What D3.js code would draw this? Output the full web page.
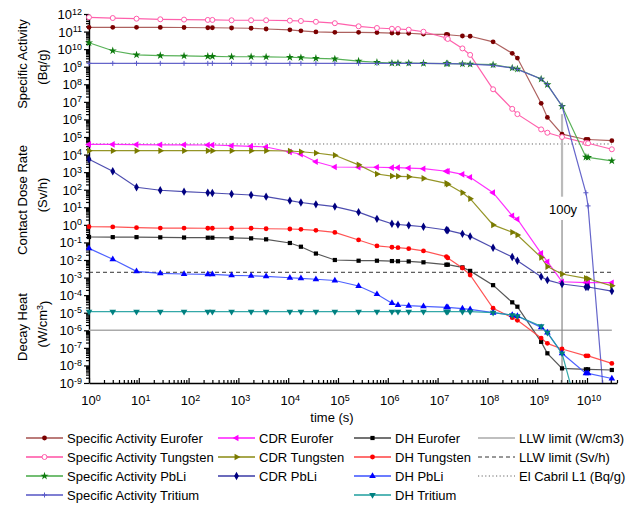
<!DOCTYPE html>
<html>
<head>
<meta charset="utf-8">
<script src="https://cdn.jsdelivr.net/npm/d3@7"></script>
<style>
  body { margin: 0; background: #fff; }
  svg { font-family: "Liberation Sans", Arial, sans-serif; }
</style>
</head>
<body>
<div id="chart"></div>
<script>
// Cooling times (s)
const times = [1, 3, 9, 27, 81, 243, 300, 729, 1800, 3600, 1.08e4, 1.8e4, 3.6e4, 8.64e4, 2.59e5,
  6.05e5, 1.21e6, 1.6e6, 2.63e6, 5.2e6, 1.5e7, 1.6e7, 3.15e7, 4.5e7, 1.3e8,
  3.15e8, 4e8, 1.2e9, 1.6e9, 3.15e9, 9.5e9, 1.05e10, 3.15e10]

// Specific activity (Bq/g)
const saEurofer = [1.75e11, 1.75e11, 1.75e11, 1.72e11, 1.7e11, 1.65e11, 1.65e11, 1.6e11, 1.55e11, 1.4e11,
  1.25e11, 1.1e11, 9.5e10, 9.1e10, 9.1e10, 8.8e10, 8.2e10, 8.2e10, 8e10, 7.2e10,
  6.9e10, 6.6e10, 5.6e10, 5.4e10, 2.6e10, 5.8e9, 3.1e9, 8.3e6, 1.3e6, 1.45e5, 7.2e4, 7.2e4, 6.2e4]
const saTungsten = [6.5e11, 5.9e11, 5.4e11, 5.0e11, 4.8e11, 4.6e11, 4.6e11, 4.4e11, 4.4e11, 4.4e11,
  4.2e11, 4.0e11, 3.6e11, 3.0e11, 2.0e11, 1.6e11, 1.45e11, 1.4e11, 1.28e11, 9.8e10,
  4.3e10, 3.8e10, 1.1e10, 4.7e9, 5.2e7, 4e6, 2e6, 2.7e5, 1.75e5, 1e5, 4.6e4, 4.4e4, 2e4]
const saPbLi = [2.3e10, 8.1e9, 4.7e9, 4.3e9, 4.1e9, 3.9e9, 3.9e9, 3.7e9, 3.7e9, 3.6e9,
  3.45e9, 3.3e9, 3.0e9, 2.8e9, 2.1e9, 1.8e9, 1.6e9, 1.6e9, 1.6e9, 1.56e9,
  1.5e9, 1.5e9, 1.45e9, 1.4e9, 1.3e9, 8.5e8, 7.4e8, 2.0e8, 9.5e7, 5.6e6, 7.2e3, 6.9e3, 4.4e3]
const saTritium = [1.55e9, 1.55e9, 1.55e9, 1.55e9, 1.55e9, 1.55e9, 1.55e9, 1.55e9, 1.55e9, 1.55e9,
  1.55e9, 1.55e9, 1.55e9, 1.55e9, 1.55e9, 1.55e9, 1.55e9, 1.55e9, 1.55e9, 1.55e9,
  1.5e9, 1.5e9, 1.45e9, 1.4e9, 1.2e9, 8.5e8, 7.1e8, 2.0e8, 9.5e7, 5.8e6, 67, 12, 4e-16]

// Contact dose rate (Sv/h)
const cdrEurofer = [3.8e4, 3.8e4, 3.7e4, 3.6e4, 3.6e4, 3.5e4, 3.5e4, 3.2e4, 2.95e4, 2.7e4,
  1.4e4, 1.04e4, 3.9e3, 1.96e3, 1.9e3, 1.9e3, 1.8e3, 1.8e3, 1.7e3, 1.57e3,
  1.12e3, 1.1e3, 750, 510, 68, 3.3, 2.1, 0.024, 8e-3, 5.8e-4, 5.2e-4, 5.1e-4, 5.1e-4]
const cdrTungsten = [1.66e4, 1.66e4, 1.66e4, 1.66e4, 1.66e4, 1.66e4, 1.66e4, 1.66e4, 1.66e4, 1.66e4,
  1.6e4, 1.45e4, 1.23e4, 9.1e3, 2.6e3, 780, 600, 580, 550, 445,
  230, 203, 68, 31, 0.99, 0.38, 0.265, 0.014, 4.2e-3, 1.6e-3, 9.1e-4, 8.6e-4, 3.4e-4]
const cdrPbLi = [5.4e3, 1.12e3, 138, 93, 77, 67, 65, 57, 50, 40,
  23.7, 18.7, 14.7, 11, 5.3, 2.2, 1.16, 1.05, 0.94, 0.78,
  0.51, 0.49, 0.31, 0.22, 0.05, 0.0148, 9.1e-3, 1.12e-3, 7.2e-4, 4.3e-4, 2.9e-4, 2.9e-4, 1.7e-4]

// Decay heat (W/cm3)
const dhEurofer = [0.204, 0.2, 0.2, 0.195, 0.19, 0.186, 0.186, 0.18, 0.171, 0.15,
  0.093, 0.057, 0.0233, 0.01, 9.1e-3, 9.1e-3, 8.7e-3, 8.5e-3, 8.3e-3, 7.4e-3,
  5.4e-3, 5.4e-3, 3.8e-3, 2.4e-3, 3.7e-4, 3.9e-5, 2.2e-5, 2.2e-7, 4.9e-8, 6.8e-9, 6e-9, 6e-9, 5.5e-9]
const dhTungsten = [0.78, 0.76, 0.69, 0.66, 0.66, 0.64, 0.64, 0.64, 0.64, 0.6,
  0.58, 0.56, 0.49, 0.37, 0.138, 0.063, 0.053, 0.05, 0.044, 0.033,
  0.0156, 0.0131, 3.5e-3, 1.4e-3, 1.8e-5, 5.2e-6, 3.7e-6, 3.6e-7, 1.8e-7, 8.6e-8, 3.5e-8, 3.5e-8, 1.3e-8]
const dhPbLi = [0.046, 0.011, 2.26e-3, 1.74e-3, 1.6e-3, 1.53e-3, 1.53e-3, 1.34e-3, 1.27e-3, 1.18e-3,
  9.8e-4, 9.1e-4, 8e-4, 6.8e-4, 3.3e-4, 1.13e-4, 3.5e-5, 2.75e-5, 2.5e-5, 2.3e-5,
  2e-5, 2e-5, 1.7e-5, 1.55e-5, 1e-5, 7.4e-6, 6.5e-6, 1.47e-6, 7.3e-7, 4.9e-8, 3.5e-9, 3.5e-9, 1.8e-9]
const dhTritium = [1.15e-5, 1.15e-5, 1.15e-5, 1.15e-5, 1.15e-5, 1.15e-5, 1.15e-5, 1.15e-5, 1.15e-5, 1.15e-5,
  1.15e-5, 1.15e-5, 1.15e-5, 1.15e-5, 1.15e-5, 1.15e-5, 1.15e-5, 1.15e-5, 1.15e-5, 1.15e-5,
  1.15e-5, 1.15e-5, 1.15e-5, 1.15e-5, 1e-5, 7.3e-6, 6.4e-6, 1.7e-6, 7.3e-7, 4.9e-8, 5e-13, 1e-13, 1e-29]

// Limits
const llwHeat = 1e-6
const llwDose = 2e-3
const elCabril = 4e4
const limitSpan = [1, 3.15e10]
const mark100y = 3.15e9

const xTicks = d3.range(0, 11)
const yTicks = d3.range(-9, 13)

const width = 640
const height = 508

const svg = d3.select("#chart").append("svg").attr("width", width).attr("height", height)

const x = d3.scaleLog().domain([1, 4e10]).range([89, 617])
const y = d3.scaleLog().domain([1e-9, 1e12]).range([383, 14])

// clip for the data
svg.append("defs").append("clipPath").attr("id", "plot")
  .append("rect").attr("x", 84).attr("y", 8).attr("width", 540).attr("height", 375)

// minor tick values
function minors(lo, hi) {
  const out = []
  for (let e = lo; e < hi; e++) {
    for (let m = 2; m <= 9; m++) out.push(m * Math.pow(10, e))
  }
  return out
}

// y axis (ticks outward)
svg.append("g").attr("transform", "translate(89,0)")
  .call(d3.axisLeft(y).tickValues(minors(-9, 12)).tickSize(3).tickFormat(""))
  .call((g) => g.select(".domain").remove())
svg.append("g").attr("transform", "translate(89,0)")
  .call(d3.axisLeft(y).tickValues(yTicks.map((e) => Math.pow(10, e))).tickSizeInner(5).tickSizeOuter(0).tickFormat(""))

// x axis (ticks inward)
const xMinor = minors(0, 11).filter((v) => v <= 4e10)
svg.append("g").attr("transform", "translate(0,383)")
  .call(d3.axisBottom(x).tickValues(xMinor).tickSize(-3).tickFormat(""))
  .call((g) => g.select(".domain").remove())
svg.append("g").attr("transform", "translate(0,383)")
  .call(d3.axisBottom(x).tickValues(xTicks.map((e) => Math.pow(10, e))).tickSizeInner(-5).tickSizeOuter(0).tickFormat(""))

svg.selectAll(".tick line").attr("stroke", "#000").attr("stroke-width", 1.2)
svg.selectAll(".domain").attr("stroke", "#000").attr("stroke-width", 1.4)

// power-of-ten labels
function pow10(sel, e) {
  sel.append("tspan").text("10")
  sel.append("tspan").attr("dy", "-0.5em").attr("font-size", 9).text(e)
}

yTicks.forEach((e) => {
  svg.append("text").attr("x", 82).attr("y", y(Math.pow(10, e)) + 5)
    .attr("text-anchor", "end").attr("font-size", 13).call(pow10, e)
})
xTicks.forEach((e) => {
  svg.append("text").attr("x", x(Math.pow(10, e)) + 2).attr("y", 405)
    .attr("text-anchor", "middle").attr("font-size", 13).call(pow10, e)
})

// axis titles
function vtitle(cx, cy, build) {
  const t = svg.append("text").attr("transform", `translate(${cx},${cy}) rotate(-90)`)
    .attr("text-anchor", "middle").attr("font-size", 13)
  build(t)
}
vtitle(27, 64, (t) => t.text("Specific Activity"))
vtitle(47, 67, (t) => t.text("(Bq/g)"))
vtitle(27, 200, (t) => t.text("Contact Dose Rate"))
vtitle(47, 195, (t) => t.text("(Sv/h)"))
vtitle(27, 327, (t) => t.text("Decay Heat"))
vtitle(47, 324, (t) => {
  t.append("tspan").text("(W/cm")
  t.append("tspan").attr("dy", "-0.45em").attr("font-size", 9).text("3")
  t.append("tspan").attr("dy", "0.45em").text(")")
})
svg.append("text").attr("x", 332).attr("y", 422).attr("text-anchor", "middle")
  .attr("font-size", 13).text("time (s)")

// series definitions
const series = [
  { name: "Specific Activity Eurofer", values: saEurofer, line: "#a4504e", color: "#7a0000", symbol: "circle" },
  { name: "Specific Activity Tungsten", values: saTungsten, line: "#ff4fa3", color: "#ff5aaa", symbol: "open" },
  { name: "Specific Activity PbLi", values: saPbLi, line: "#45a845", color: "#0d7a0d", symbol: "star" },
  { name: "Specific Activity Tritium", values: saTritium, line: "#5454c4", color: "#5a5ac8", symbol: "plus" },
  { name: "CDR Eurofer", values: cdrEurofer, line: "#ff1aff", color: "#ff00ff", symbol: "left" },
  { name: "CDR Tungsten", values: cdrTungsten, line: "#8a8a10", color: "#7a7a00", symbol: "right" },
  { name: "CDR PbLi", values: cdrPbLi, line: "#3a3aa6", color: "#000080", symbol: "diamond" },
  { name: "DH Eurofer", values: dhEurofer, line: "#444", color: "#000", symbol: "square" },
  { name: "DH Tungsten", values: dhTungsten, line: "#ff4040", color: "#ff0000", symbol: "circle" },
  { name: "DH PbLi", values: dhPbLi, line: "#3a50ff", color: "#0000ff", symbol: "up" },
  { name: "DH Tritium", values: dhTritium, line: "#1e9e9e", color: "#008080", symbol: "down" },
]

const limits = [
  { name: "LLW limit (W/cm3)", value: llwHeat, stroke: "#aaa", width: 1.6, dash: null },
  { name: "LLW limit (Sv/h)", value: llwDose, stroke: "#333", width: 1, dash: "4,3" },
  { name: "El Cabril L1 (Bq/g)", value: elCabril, stroke: "#666", width: 1, dash: "1.2,2.4" },
]

function marker(g, s) {
  const tri = d3.symbol().type(d3.symbolTriangle).size(19)
  switch (s.symbol) {
    case "circle":
      return g.append("circle").attr("r", 2.4).attr("fill", s.color)
    case "open":
      return g.append("circle").attr("r", 2.5).attr("fill", "#fff").attr("stroke", s.color).attr("stroke-width", 1)
    case "star":
      return g.append("path").attr("d", d3.symbol().type(d3.symbolStar).size(20)()).attr("fill", s.color)
    case "plus":
      return g.append("path").attr("d", "M-2.5,0H2.5M0,-2.5V2.5").attr("stroke", s.color).attr("stroke-width", 1)
    case "square":
      return g.append("rect").attr("x", -2.1).attr("y", -2.1).attr("width", 4.2).attr("height", 4.2).attr("fill", s.color)
    case "diamond":
      return g.append("path").attr("d", d3.symbol().type(d3.symbolDiamond).size(20)()).attr("fill", s.color)
    case "up":
      return g.append("path").attr("d", tri()).attr("fill", s.color)
    case "down":
      return g.append("path").attr("d", tri()).attr("transform", "rotate(180)").attr("fill", s.color)
    case "left":
      return g.append("path").attr("d", tri()).attr("transform", "rotate(-90)").attr("fill", s.color)
    case "right":
      return g.append("path").attr("d", tri()).attr("transform", "rotate(90)").attr("fill", s.color)
  }
}

const plot = svg.append("g").attr("clip-path", "url(#plot)")

// limit lines
limits.forEach((l) => {
  plot.append("line")
    .attr("x1", x(limitSpan[0])).attr("x2", x(limitSpan[1]))
    .attr("y1", y(l.value)).attr("y2", y(l.value))
    .attr("stroke", l.stroke).attr("stroke-width", l.width)
    .attr("stroke-dasharray", l.dash)
})

// 100 y marker
plot.append("line")
  .attr("x1", x(mark100y)).attr("x2", x(mark100y))
  .attr("y1", y(2e6)).attr("y2", y(40))
  .attr("stroke", "#bbb").attr("stroke-width", 2.2)
plot.append("line")
  .attr("x1", x(mark100y)).attr("x2", x(mark100y))
  .attr("y1", y(1.9)).attr("y2", y(1e-9))
  .attr("stroke", "#888").attr("stroke-width", 1.2)
svg.append("text").attr("x", x(mark100y) + 1).attr("y", y(7) + 4)
  .attr("text-anchor", "middle").attr("font-size", 13).text("100y")

const lineGen = d3.line().x((d) => x(d.t)).y((d) => y(Math.max(d.v, 1e-40)))

series.forEach((s) => {
  const pts = times.map((t, i) => ({ t, v: s.values[i] }))
  plot.append("path").datum(pts)
    .attr("d", lineGen).attr("fill", "none")
    .attr("stroke", s.line).attr("stroke-width", 1.2).attr("stroke-opacity", 0.9)
})

series.forEach((s) => {
  const pts = times.map((t, i) => ({ t, v: s.values[i] })).filter((d) => d.v >= 1e-9)
  plot.append("g").selectAll("g").data(pts).enter().append("g")
    .attr("transform", (d) => `translate(${x(d.t)},${y(d.v)})`)
    .each(function () { marker(d3.select(this), s) })
})

// legend
const colX = [26, 218, 354, 478]
const rowY = [438, 457, 476, 495]
const legendCols = [series.slice(0, 4), series.slice(4, 7), series.slice(7, 11), limits]

legendCols.forEach((col, ci) => {
  col.forEach((item, ri) => {
    const g = svg.append("g").attr("transform", `translate(${colX[ci]},${rowY[ri]})`)
    if (item.values) {
      g.append("line").attr("x1", 0).attr("x2", 37).attr("y1", 0).attr("y2", 0)
        .attr("stroke", item.line).attr("stroke-width", 1.3)
      marker(g.append("g").attr("transform", "translate(18.5,0)"), item)
    } else {
      g.append("line").attr("x1", 0).attr("x2", 37).attr("y1", 0).attr("y2", 0)
        .attr("stroke", item.stroke).attr("stroke-width", item.width)
        .attr("stroke-dasharray", item.dash)
    }
    g.append("text").attr("x", 41).attr("y", 4.5).attr("font-size", 13).text(item.name)
  })
})
</script>
</body>
</html>
